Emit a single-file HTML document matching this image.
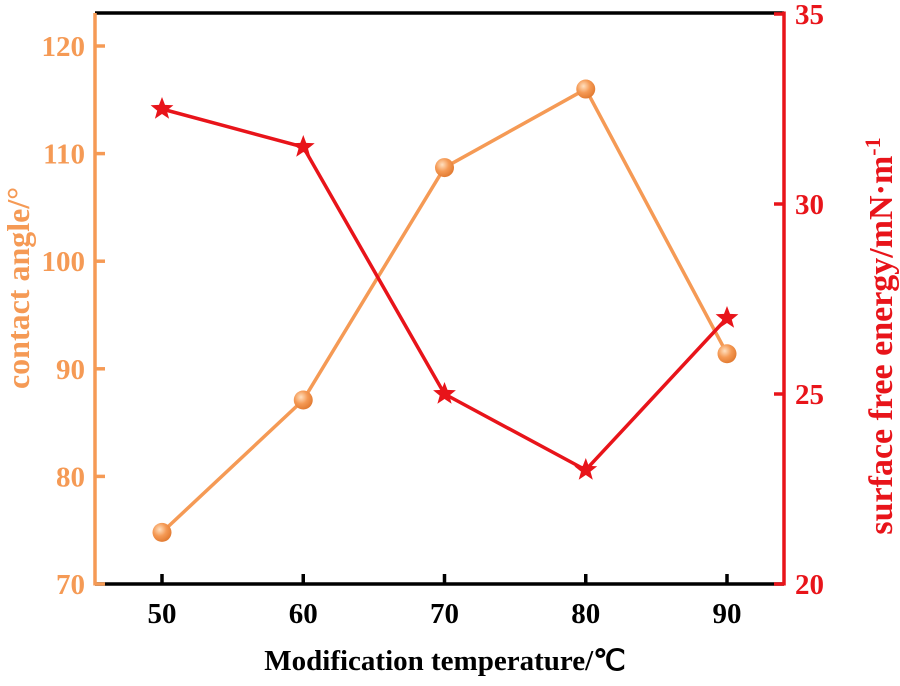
<!DOCTYPE html>
<html><head><meta charset="utf-8"><style>
body{margin:0;background:#fff}
svg text{font-family:"Liberation Serif",serif;font-weight:bold}
</style></head><body>
<svg id="chart" width="900" height="681" viewBox="0 0 900 681">
<defs><radialGradient id="ball" cx="0.38" cy="0.35" r="0.7"><stop offset="0" stop-color="#ffe0c0"/><stop offset="0.5" stop-color="#f59a55"/><stop offset="1" stop-color="#e0782e"/></radialGradient></defs>
<g id="plot"></g>
</svg>
<script>
const categories=[50,60,70,80,90];
const contactAngle=[74.8,87.1,108.7,116.0,91.4];
const surfaceEnergy=[32.5,31.5,25.0,23.0,27.0];
const leftTicks=[70,80,90,100,110,120];
const rightTicks=[20,25,30,35];
const xTicks=[50,60,70,80,90];
const L=95,R=784,T=13,B=584;
const ORANGE="#f59a55",RED="#e8141a";
const xS=v=>162+(v-50)*14.125;
const yL=v=>584-(v-70)*10.76;
const yR=v=>584-(v-20)*38.0;
const svg=document.getElementById('plot');
const NS="http://www.w3.org/2000/svg";
function mk(tag,attrs,txt){const e=document.createElementNS(NS,tag);for(const k in attrs)e.setAttribute(k,attrs[k]);if(txt!==undefined)e.textContent=txt;svg.appendChild(e);return e;}
let e;
e=mk('line',{x1:L,y1:T,x2:R,y2:T,stroke:'#000','stroke-width':3.5});


e=mk('line',{x1:L,y1:B,x2:R,y2:B,stroke:'#000','stroke-width':3.5});


e=mk('line',{x1:L,y1:T,x2:L,y2:B+1.5,stroke:ORANGE,'stroke-width':3.5});


e=mk('line',{x1:R,y1:T-1.5,x2:R,y2:B+1.5,stroke:RED,'stroke-width':3.5});


xTicks.forEach(v=>{
 e=mk('line',{x1:xS(v),y1:B,x2:xS(v),y2:B-10,stroke:'#000','stroke-width':3.5});
 
 
 e=mk('text',{x:xS(v),y:B+39,'text-anchor':'middle','font-size':29,fill:'#000'},v);
 
 
});
leftTicks.forEach(v=>{
 e=mk('line',{x1:L,y1:yL(v),x2:L+10,y2:yL(v),stroke:ORANGE,'stroke-width':3.5});
 
 
 e=mk('text',{x:L-10,y:yL(v)+10,'text-anchor':'end','font-size':29,fill:ORANGE},v);
 
 
});
rightTicks.forEach(v=>{
 e=mk('line',{x1:R,y1:yR(v),x2:R-10,y2:yR(v),stroke:RED,'stroke-width':3.5});
 
 
 e=mk('text',{x:R+11,y:yR(v)+10,'text-anchor':'start','font-size':29,fill:RED},v);
 
 
});
e=mk('text',{x:445,y:670,'text-anchor':'middle','font-size':29,fill:'#000'},'Modification temperature/\u2103');


e=mk('text',{x:0,y:0,'text-anchor':'middle','font-size':32,fill:ORANGE,transform:'translate(29,288) rotate(-90)'},'contact angle/\u00b0');


e=mk('text',{x:0,y:0,'text-anchor':'middle','font-size':34,fill:RED,transform:'translate(892,336) rotate(-90)'});


e.innerHTML='surface free energy/mN\u00b7m<tspan dy="-12" font-size="22">-1</tspan>';
e=mk('polyline',{points:categories.map((c,i)=>xS(c)+','+yL(contactAngle[i])).join(' '),fill:'none',stroke:ORANGE,'stroke-width':3.5});


e=mk('polyline',{points:categories.map((c,i)=>xS(c)+','+yR(surfaceEnergy[i])).join(' '),fill:'none',stroke:RED,'stroke-width':3.5});


categories.forEach((c,i)=>{
 e=mk('circle',{cx:xS(c),cy:yL(contactAngle[i]),r:9.5,fill:'url(#ball)'});
 
 
});
function star(cx,cy,r){let p=[];for(let k=0;k<10;k++){const a=-Math.PI/2+k*Math.PI/5;const rr=k%2?r*0.42:r;p.push((cx+rr*Math.cos(a)).toFixed(1)+','+(cy+rr*Math.sin(a)).toFixed(1));}return p.join(' ');}
categories.forEach((c,i)=>{
 e=mk('polygon',{points:star(xS(c),yR(surfaceEnergy[i]),12),fill:RED});
 
 
});
</script>
</body></html>
